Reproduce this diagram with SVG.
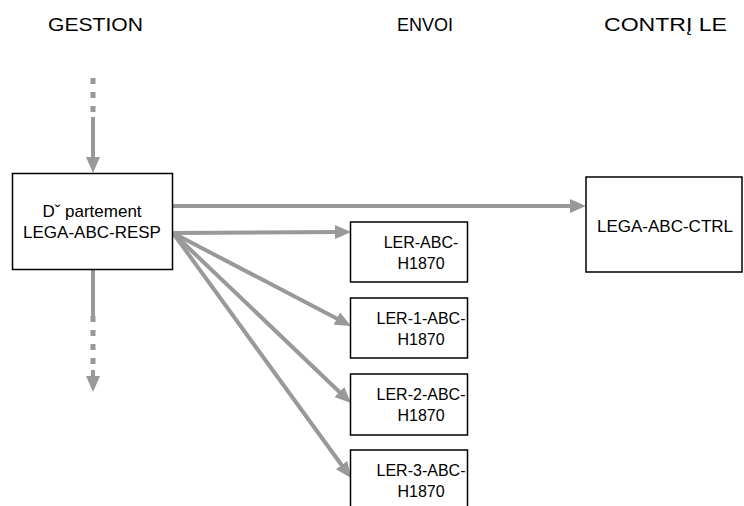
<svg xmlns="http://www.w3.org/2000/svg" width="744" height="506" viewBox="0 0 744 506">
<defs>
<style>
text{font-family:"Liberation Sans",Arial,sans-serif;font-size:17px;fill:#000}
.hdr{font-size:18px}
.box{fill:#fff;stroke:#000;stroke-width:1.5}
.con{stroke:#999;stroke-width:4;fill:none}
.dot{stroke:#999;stroke-width:5;fill:none;stroke-dasharray:6 8}
.node text{text-anchor:middle}
.ler text{font-size:16px}
</style>
<marker id="ah" markerUnits="userSpaceOnUse" markerWidth="16" markerHeight="14" refX="8" refY="7" orient="auto" viewBox="0 0 16 14">
<path d="M0,0 L16,7 L0,14 z" fill="#999"/>
</marker>
</defs>
<rect width="744" height="506" fill="#fff"/>
<g id="headers">
<text class="hdr" x="48" y="31" textLength="95" lengthAdjust="spacingAndGlyphs">GESTION</text>
<text class="hdr" x="397" y="31" textLength="56" lengthAdjust="spacingAndGlyphs">ENVOI</text>
<text class="hdr" x="604" y="31" textLength="123" lengthAdjust="spacingAndGlyphs">CONTRĮ LE</text>
</g>
<g id="connectors">
<line class="dot" x1="93" y1="78" x2="93" y2="117"/>
<line class="con" x1="93" y1="117" x2="93" y2="165" marker-end="url(#ah)"/>
<line class="con" x1="93" y1="269" x2="93" y2="316"/>
<line class="dot" x1="93" y1="316" x2="93" y2="370"/>
<line class="con" x1="93" y1="370" x2="93" y2="384" marker-end="url(#ah)"/>
<line class="con" x1="173" y1="206" x2="578" y2="206" marker-end="url(#ah)"/>
<line class="con" x1="173" y1="233" x2="343" y2="232" marker-end="url(#ah)"/>
<line class="con" x1="173" y1="233" x2="343.9" y2="322.3" marker-end="url(#ah)"/>
<line class="con" x1="173" y1="233" x2="345.2" y2="397.5" marker-end="url(#ah)"/>
<line class="con" x1="173" y1="233" x2="346.3" y2="471.5" marker-end="url(#ah)"/>
</g>
<g id="resp" class="node">
<rect class="box" x="12.5" y="173.5" width="160" height="96"/>
<text x="92" y="217">Dˇ partement</text>
<text x="92" y="238">LEGA-ABC-RESP</text>
</g>
<g id="ctrl" class="node">
<rect class="box" x="586" y="177" width="156" height="95"/>
<text x="665" y="232">LEGA-ABC-CTRL</text>
</g>
<g id="ler0" class="node ler">
<rect class="box" x="350.5" y="222" width="117" height="60"/>
<text x="421" y="248">LER-ABC-</text>
<text x="421" y="269">H1870</text>
</g>
<g id="ler1" class="node ler">
<rect class="box" x="350.5" y="298" width="117" height="60"/>
<text x="421" y="324">LER-1-ABC-</text>
<text x="421" y="345">H1870</text>
</g>
<g id="ler2" class="node ler">
<rect class="box" x="350.5" y="374" width="117" height="61"/>
<text x="421" y="400">LER-2-ABC-</text>
<text x="421" y="421">H1870</text>
</g>
<g id="ler3" class="node ler">
<rect class="box" x="350.5" y="450" width="117" height="60"/>
<text x="421" y="476">LER-3-ABC-</text>
<text x="421" y="497">H1870</text>
</g>
</svg>
